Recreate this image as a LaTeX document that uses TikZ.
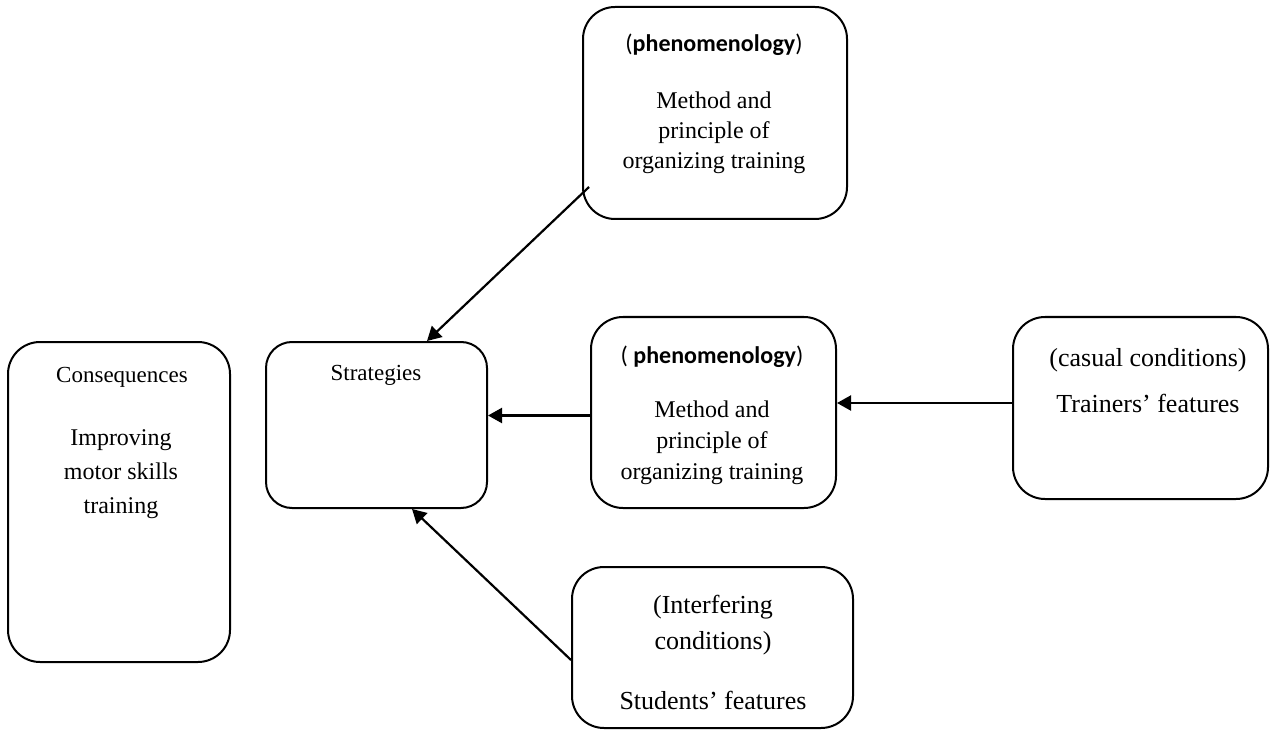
\documentclass[tikz,border=0pt]{standalone}
\usepackage{fontspec}
\setmainfont{Liberation Serif}
\newfontfamily\calib{Carlito}
\usetikzlibrary{arrows.meta}

\begin{document}
\begin{tikzpicture}[x=0.5pt,y=-0.5pt,
		box/.style={draw,line width=1pt,rounded corners=16pt,inner sep=0pt},
		lbl/.style={align=center,inner sep=0pt},
		arr/.style={line width=1.1pt,-{Triangle[length=7pt,width=7.5pt]}}]
		\useasboundingbox (0,0) rectangle (1272,732);
		
		% boxes
		\node[box,minimum width=132pt,minimum height=106pt] (meth1) at (715,113) {};
		\node[box,minimum width=122.5pt,minimum height=95.5pt] (meth2) at (713.5,412.5) {};
		\node[box,minimum width=127.5pt,minimum height=91pt] (cause) at (1140.5,408) {};
		\node[box,rounded corners=13pt,minimum width=110.5pt,minimum height=83pt] (strat) at (376.5,425) {};
		\node[box,minimum width=111pt,minimum height=160pt] (conseq) at (119,502) {};
		\node[box,minimum width=140.5pt,minimum height=80.5pt] (stud) at (712.5,647.5) {};
		
		% texts
		\node[lbl,font=\fontsize{12}{14}\selectfont] (meth1h) at (714,45) {\calib(\textbf{phenomenology})};
		\node[lbl,font=\fontsize{12}{15}\selectfont] (meth1t) at (714,133) {Method and\\principle of\\organizing training};
		\node[lbl,font=\fontsize{12}{14}\selectfont] (meth2h) at (712,357) {\calib( \textbf{phenomenology})};
		\node[lbl,font=\fontsize{12}{15.5}\selectfont] (meth2t) at (712,443) {Method and\\principle of\\organizing training};
		\node[lbl,font=\fontsize{13}{16}\selectfont] (causeh) at (1148,360) {(casual conditions)};
		\node[lbl,font=\fontsize{13}{16}\selectfont] (causet) at (1148,403) {Trainers’ features};
		\node[lbl,font=\fontsize{11.5}{14}\selectfont] (strath) at (376,375) {Strategies};
		\node[lbl,font=\fontsize{11.5}{14}\selectfont] (conseqh) at (122,377) {Consequences};
		\node[lbl,font=\fontsize{12}{17}\selectfont] (conseqt) at (121,474) {Improving\\motor skills\\training};
		\node[lbl,font=\fontsize{13}{18}\selectfont] (studh) at (713,625) {(Interfering\\conditions)};
		\node[lbl,font=\fontsize{13}{16}\selectfont] (studt) at (713,700) {Students’ features};
		
		% arrows
		\draw[arr] ([xshift=3.5pt,yshift=16.5pt]meth1.south west) -- ([xshift=25.25pt]strat.north);
		\draw[arr] ([yshift=-1.5pt]meth2.west) coordinate (m2w) -- (strat.east |- m2w);
		\draw[arr] ([yshift=2.5pt]cause.west) coordinate (cw) -- (meth2.east |- cw);
		\draw[arr] ([yshift=-6.25pt]stud.west) -- ([xshift=17.75pt]strat.south);
	\end{tikzpicture}
\end{document}
